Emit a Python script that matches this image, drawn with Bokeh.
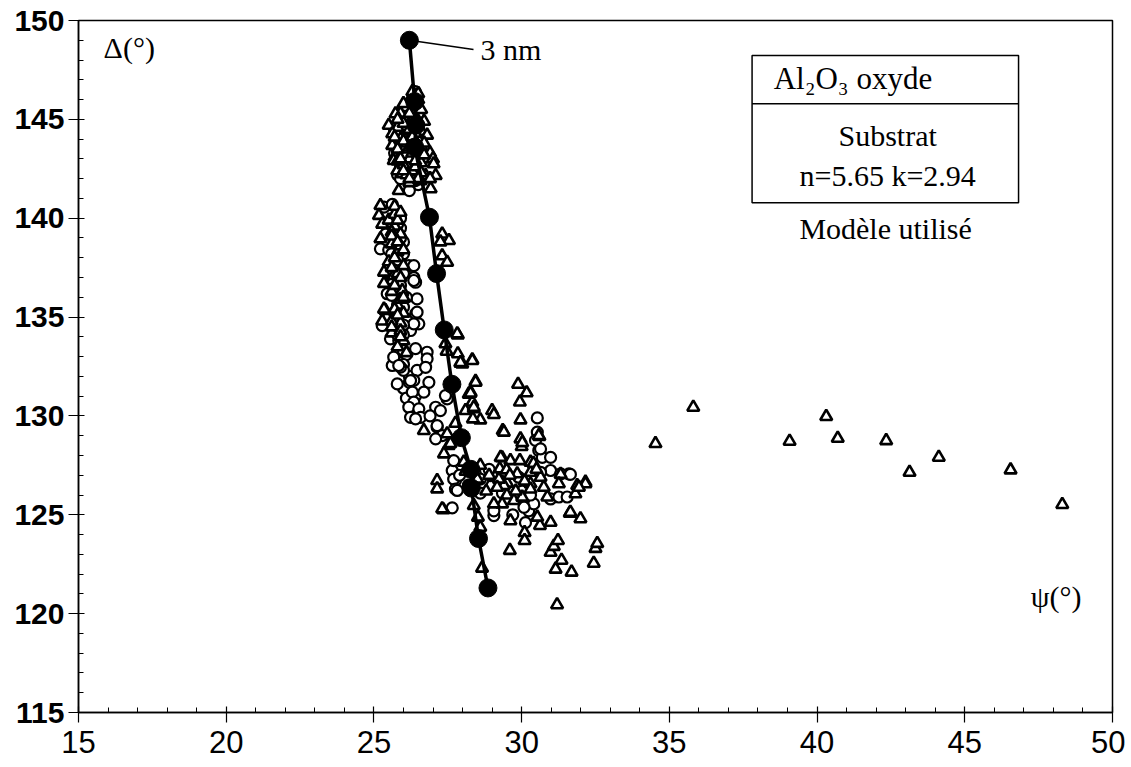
from bokeh.plotting import figure
from bokeh.models import SingleIntervalTicker, Label, BoxAnnotation, Range1d
from bokeh.embed import file_html
from bokeh.resources import INLINE

# ---- data ----
x_ticks = [15, 20, 25, 30, 35, 40, 45, 50]
y_ticks = [115, 120, 125, 130, 135, 140, 145, 150]

model_psi = [26.2, 26.38, 26.42, 26.38, 26.88, 27.12, 27.38, 27.64, 27.96, 28.28, 28.3, 28.54, 28.86]
model_delta = [149.0, 145.9, 144.7, 143.6, 140.05, 137.2, 134.35, 131.6, 128.9, 127.3, 126.35, 123.8, 121.3]

tri_psi = [
    26.3, 26.5, 26.1, 26.6, 25.9, 25.73, 26.3, 26.7, 25.5, 25.8, 26.2, 26.6, 26.8, 25.62, 25.9, 26.4, 26.7, 25.62,
    26.0, 26.5, 26.9, 25.7, 26.2, 27.0, 27.02, 25.67, 26.6, 25.79, 26.0, 25.96, 26.75, 27.09, 26.9, 26.58, 26.92,
    25.84, 26.3,
    26.2, 26.0, 26.4, 26.1, 26.3, 25.8, 26.4, 26.1, 26.6, 26.2,
    26.3, 26.5, 26.0, 26.2, 25.8, 26.5, 25.7, 26.0, 26.3, 25.8, 26.2, 26.7, 25.9, 26.4, 26.0, 26.5, 26.2,
    25.22, 25.17, 25.28, 25.5, 25.7, 25.22, 25.6, 25.8, 25.5, 25.34, 25.39, 25.62, 25.67, 25.96, 25.34, 25.39,
    25.34, 25.28, 25.8, 26.0, 25.9, 25.96, 25.7, 25.9, 25.6,
    25.8, 25.6, 25.9, 25.7, 26.0, 25.8, 25.6, 25.9, 25.7, 25.6, 25.9, 26.0, 25.8,
    25.7, 25.9, 25.6, 25.8, 26.0, 25.6, 25.9, 25.7, 26.0, 25.8, 25.6, 25.9, 26.1,
    27.31, 27.54, 27.25, 27.31, 27.48, 27.84, 27.42, 27.46, 27.84, 27.93, 28.33, 28.44, 28.27, 28.33, 28.1, 28.38,
    27.82, 27.99, 28.21, 27.93, 28.33,
    29.88, 30.17, 29.94, 29.96, 29.36, 29.96, 30.0, 30.6, 28.44, 28.27, 28.38, 28.6, 28.35, 29.0, 29.06, 29.34,
    29.62, 29.94, 30.3, 29.26, 29.49, 29.85, 31.32, 32.16, 27.48, 27.76, 27.53, 29.51, 30.3, 29.4, 30.02, 26.69,
    27.59, 30.58, 27.37, 29.29, 30.3, 28.04,
    28.1, 28.5, 28.8, 29.1, 29.5, 30.1, 30.4, 28.6,
    29.6, 31.2, 31.15, 31.35, 31.69, 30.98, 31.09, 31.23, 32.44, 32.5, 32.56, 31.63, 31.99, 30.98, 30.62, 30.53,
    30.1, 30.1, 29.62, 28.38, 28.52, 28.6, 28.66, 27.35, 32.16, 31.88, 31.82, 30.87, 31.26, 30.64, 30.3, 29.4,
    29.34, 29.74, 30.02, 29.06, 29.23, 31.94, 30.75, 29.17, 29.8, 27.14, 27.14, 27.31, 31.65, 28.9, 29.6, 30.5,
    34.53, 35.81, 39.07, 40.31, 40.7, 42.34, 43.13, 44.12, 46.55, 48.3,
]
tri_delta = [
    146.2, 146.0, 145.6, 145.5, 145.3, 145.28, 145.0, 144.9, 144.7, 144.6, 144.5, 144.4, 144.2, 144.27, 144.0,
    143.9, 143.8, 143.68, 143.5, 143.4, 143.3, 143.1, 143.0, 143.0, 142.75, 142.92, 142.8, 142.4, 142.7, 142.25,
    142.16, 142.16, 142.0, 141.9, 141.49, 141.4, 142.4,
    145.9, 144.8, 144.3, 143.8, 143.3, 142.9, 142.6, 142.2, 142.3, 141.8,
    146.4, 146.3, 145.8, 145.3, 145.0, 144.9, 144.1, 143.9, 144.1, 143.5, 143.6, 143.2, 143.0, 142.9, 142.4,
    142.0, 142.0,
    140.64, 140.14, 139.7, 139.9, 139.6, 138.96, 138.7, 138.3, 137.8, 137.27, 136.76, 136.85, 137.1, 136.26,
    136.7, 135.33, 135.4, 134.8, 135.6, 135.2, 134.7, 136.34, 140.2, 139.2, 134.2,
    139.9, 139.3, 138.6, 138.0, 137.6, 137.2, 136.3, 135.9, 135.4, 134.8, 134.3, 133.8, 133.5,
    140.6, 140.3, 139.1, 138.8, 138.4, 137.5, 137.0, 136.6, 136.0, 135.1, 134.5, 134.0, 133.2,
    139.2, 138.87, 138.8, 138.1, 137.77, 134.1, 133.65, 133.27, 133.14, 132.67, 132.84, 131.75, 131.2, 130.7,
    130.27, 130.36, 134.15, 132.63, 131.1, 132.7, 132.8,
    131.6, 131.17, 130.7, 129.8, 129.26, 128.84, 128.45, 128.96, 131.7, 131.15, 130.44, 129.8, 129.85, 130.27,
    130.07, 127.88, 127.74, 127.74, 127.66, 127.33, 127.27, 127.07, 127.04, 126.65, 129.1, 129.63, 128.5, 126.6,
    126.57, 129.18, 128.65, 129.26, 128.6, 129.0, 128.08, 127.9, 127.15, 127.66,
    127.2, 126.8, 126.2, 126.9, 126.0, 126.7, 127.6, 127.5,
    123.2, 120.45, 122.25, 122.7, 122.1, 123.1, 123.4, 123.7, 122.55, 123.3, 123.55, 125.08, 124.8, 124.62,
    124.46, 124.88, 124.1, 123.7, 124.7, 125.47, 124.88, 124.37, 122.3, 125.25, 126.57, 126.48, 126.06, 125.9,
    126.57, 126.9, 126.3, 126.48, 125.55, 125.72, 125.89, 125.55, 126.8, 126.39, 126.39, 126.39, 126.2, 126.73,
    126.31, 125.3, 125.13, 127.0, 127.0, 127.3,
    128.6, 130.44, 128.72, 129.97, 128.87, 128.75, 127.15, 127.91, 127.27, 125.52,
]

circ_psi = [
    26.4, 26.2, 26.5, 26.0, 26.4, 25.7, 26.1, 26.6, 25.8, 26.3, 26.1, 26.5, 25.9, 26.3, 26.1, 26.5, 25.7, 26.7,
    26.3, 25.9, 26.5, 26.2, 25.9, 26.6, 26.4, 25.8, 26.0,
    26.4, 26.0, 26.3, 25.8, 26.1, 25.7, 26.0, 26.4, 26.2, 25.9, 26.4, 26.2,
    25.34, 25.62, 25.84, 25.6, 25.9, 25.4, 25.7, 26.0, 25.22, 25.5, 25.9, 26.18, 26.35, 26.35, 26.41, 25.96,
    25.45, 26.35, 25.56, 26.41, 26.46, 25.5, 26.46, 26.52, 25.28, 25.56, 25.67, 25.84, 26.24, 26.35, 25.7, 26.1,
    25.9,
    25.8, 25.7, 26.0, 25.8, 25.7, 25.9, 25.8, 25.7, 26.0, 25.8, 25.9, 26.1, 26.0, 26.2, 26.0, 26.4,
    25.9, 25.7, 25.9, 25.6, 25.8, 26.0, 25.6, 25.8, 26.0, 25.7, 26.0, 25.8, 26.0, 26.2, 26.1, 26.4,
    26.0, 26.41, 26.8, 26.8, 25.62, 25.9, 25.79, 26.46, 26.86, 26.35, 26.3, 26.69, 26.35, 26.18, 26.52, 26.24,
    26.58, 27.09, 27.25, 27.48, 27.14, 27.31, 27.09, 25.67, 25.84, 26.24, 26.75, 26.41, 27.14, 27.42, 26.9,
    30.53, 30.53, 30.47, 30.58, 30.7, 30.98, 30.98, 31.6, 27.65, 27.76, 28.95, 28.78, 30.64, 31.32, 27.65, 29.06,
    30.13, 30.24, 30.98, 31.26, 31.54, 30.02, 29.0, 27.7, 27.76, 28.95, 30.41, 31.65, 30.64, 30.08, 29.06, 27.7,
    27.82, 28.6, 29.35, 29.7, 28.9,
    27.9, 28.2, 28.6, 29.3, 29.9, 30.3,
]
circ_delta = [
    146.1, 145.7, 145.3, 145.0, 144.7, 144.4, 144.2, 144.0, 143.8, 143.6, 143.2, 142.9, 142.6, 142.3, 141.9,
    141.7, 143.3, 143.1,
    145.4, 144.8, 144.7, 143.9, 143.4, 143.5, 142.6, 142.2, 141.6,
    146.4, 145.5, 144.9, 144.2, 144.5, 143.7, 143.2, 143.1, 142.8, 142.0, 141.9, 141.4,
    140.56, 140.7, 140.22, 139.8, 139.5, 139.2, 139.0, 138.8, 138.45, 138.4, 138.0, 137.6, 137.6, 137.0, 136.76,
    137.35, 136.18, 136.85, 135.08, 135.16, 135.92, 135.0, 135.25, 134.66, 134.57, 133.9, 134.49, 133.81, 134.32,
    134.66, 136.5, 136.0, 135.6,
    139.7, 138.6, 138.2, 137.6, 136.9, 136.6, 135.9, 135.2, 134.6, 134.1, 133.6, 133.1, 132.6, 132.0, 131.4, 131.0,
    140.0, 139.4, 139.0, 138.2, 137.9, 137.2, 136.1, 135.6, 135.5, 134.4, 134.1, 133.2, 132.3, 131.7, 130.9, 130.2,
    133.3, 133.4, 133.22, 132.89, 132.55, 132.47, 131.62, 132.3, 131.7, 131.8, 131.2, 131.2, 130.7, 130.44,
    130.36, 129.93, 129.93, 130.44, 130.27, 130.86, 129.43, 129.0, 128.84, 132.97, 132.55, 131.79, 132.46,
    129.85, 129.51, 131.03, 130.0,
    129.9, 129.18, 128.76, 128.25, 127.9, 127.9, 127.24, 127.07, 127.24, 126.73, 127.07, 127.24, 128.33, 127.07,
    125.35, 124.96, 124.6, 125.2, 125.8, 125.9, 125.9, 126.2, 126.48, 126.8, 126.3, 126.98, 125.55, 127.04,
    127.15, 125.38, 125.2, 127.74, 126.23, 126.8, 126.1, 125.0, 127.3,
    127.0, 126.5, 126.1, 126.7, 126.9, 126.0,
]

# ---- figure ----
p = figure(width=1125, height=760, output_backend="svg", toolbar_location=None,
           x_range=Range1d(15, 50), y_range=Range1d(115, 150),
           min_border_left=78, min_border_top=20, min_border_right=13, min_border_bottom=48)
p.background_fill_color = "white"
p.border_fill_color = "white"
p.outline_line_color = "black"
p.outline_line_width = 1.5
p.xgrid.visible = False
p.ygrid.visible = False

for ax, tks in ((p.xaxis, x_ticks), (p.yaxis, y_ticks)):
    ax.ticker = SingleIntervalTicker(interval=tks[1] - tks[0], num_minor_ticks=5)
    ax.axis_line_color = "black"
    ax.axis_line_width = 1.5
    ax.major_tick_line_color = "black"
    ax.minor_tick_line_color = "black"
    ax.major_tick_line_width = 1.2
    ax.minor_tick_line_width = 1
    ax.major_tick_out = 10
    ax.major_tick_in = 6
    ax.minor_tick_in = 5
    ax.minor_tick_out = 0
    ax.major_label_text_color = "black"

p.yaxis.major_label_text_font = "Liberation Sans"
p.yaxis.major_label_text_font_style = "bold"
p.yaxis.major_label_text_font_size = "30px"
p.yaxis.major_label_standoff = 4
p.xaxis.major_label_text_font = "Liberation Sans"
p.xaxis.major_label_text_font_size = "31px"
p.xaxis.major_label_standoff = 8

# data series
p.scatter(circ_psi, circ_delta, marker="circle", size=11, fill_color="white",
          line_color="black", line_width=2.2)
p.scatter(tri_psi, tri_delta, marker="triangle", size=12, fill_color="white",
          line_color="black", line_width=2.6)

# model curve
p.line(model_psi, model_delta, line_color="black", line_width=3.5)
p.scatter(model_psi, model_delta, marker="circle", size=18, fill_color="black", line_color="black")

# leader to "3 nm"
p.line([model_psi[0], 28.37], [model_delta[0], 148.53], line_color="black", line_width=1.5)

serif = "Liberation Serif"
def lab(x, y, t, align="left", size="30px"):
    p.add_layout(Label(x=x, y=y, text=t, text_font=serif, text_font_size=size,
                       text_align=align, text_baseline="middle", text_color="black"))

lab(28.61, 148.55, "3 nm")
lab(15.85, 148.63, "Δ(°)")
lab(47.23, 120.86, "ψ(°)")

# legend-like box
p.add_layout(BoxAnnotation(left=37.8, right=46.82, top=148.23, bottom=140.78,
                           fill_alpha=0, line_color="black", line_alpha=1, line_width=1.5))
p.segment(x0=[37.8], y0=[145.79], x1=[46.82], y1=[145.79], line_color="black", line_width=1.5)
lab(38.53, 147.05, "Al₂O₃ oxyde", size="31px")
lab(42.39, 144.18, "Substrat", align="center")
lab(42.39, 142.16, "n=5.65 k=2.94", align="center")
lab(42.32, 139.48, "Modèle utilisé", align="center")

open("out.html", "w").write(file_html(p, INLINE))
